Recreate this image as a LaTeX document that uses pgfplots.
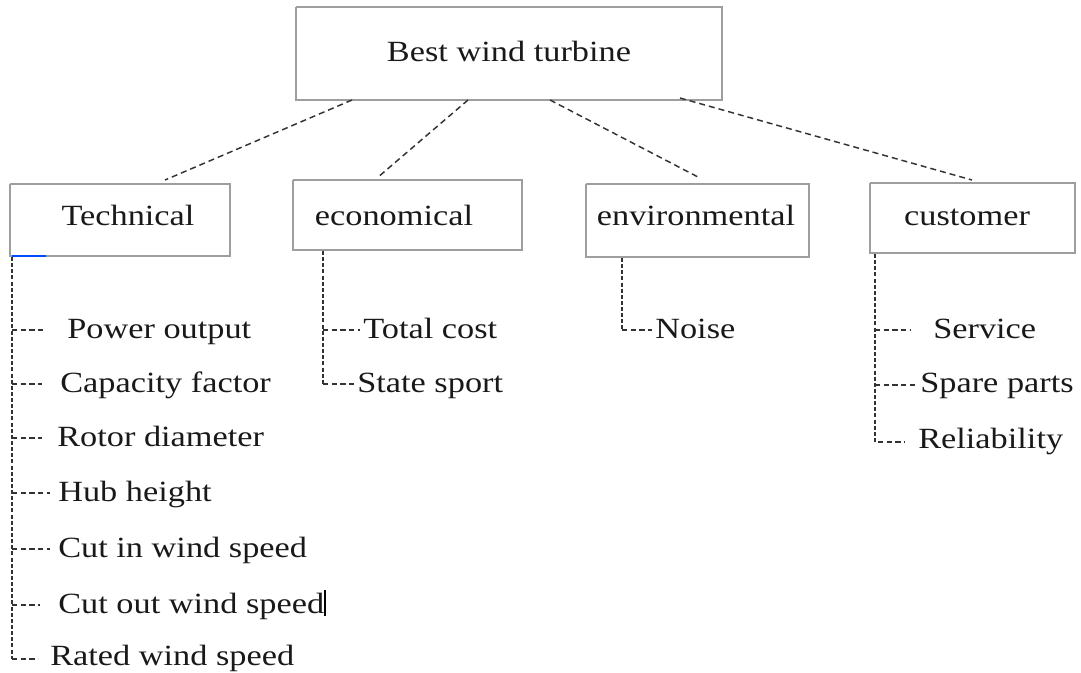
\documentclass[border=0pt]{standalone}
\usepackage{fontspec}
\setmainfont{Liberation Serif}[FakeStretch=1.17]
\usepackage{pgfplots}
\pgfplotsset{compat=1.18}
\tikzset{lbl/.style={font=\fontsize{22}{26}\selectfont, inner sep=0pt, text=black!90}}
\begin{document}
\begin{tikzpicture}
\begin{axis}[
  scale only axis, width=810.75pt, height=504pt,
  xmin=0, xmax=1081, ymin=0, ymax=672, y dir=reverse,
  hide axis, clip=false,
]
% frame for bounding box
\addplot[draw=none] coordinates {(0,0) (1081,672)};
% boxes
\pgfplotsset{boxst/.style={color=black!38, line width=1.1pt}}
\addplot[boxst] coordinates {(296,7) (722,7) (722,100) (296,100) (296,7)};
\addplot[boxst] coordinates {(10,184) (230,184) (230,256) (10,256) (10,184)};
\addplot[boxst] coordinates {(293,180) (522,180) (522,250) (293,250) (293,180)};
\addplot[boxst] coordinates {(586,184) (809,184) (809,257) (586,257) (586,184)};
\addplot[boxst] coordinates {(870,183) (1075,183) (1075,253) (870,253) (870,183)};
\addplot[color=blue!70!cyan, line width=1pt] coordinates {(12,256) (46,256)};
% top connectors
\pgfplotsset{dsh/.style={color=black!80, line width=1.1pt, dash pattern=on 4.5pt off 3pt}}
\addplot[dsh] coordinates {(352,100) (165,180)};
\addplot[dsh] coordinates {(468,100) (377,178)};
\addplot[dsh] coordinates {(550,100) (698,177)};
\addplot[dsh] coordinates {(680,98) (972,180)};
% branch styles
\pgfplotsset{
  vdsh/.style={color=black!80, line width=1.1pt, dash pattern=on 3pt off 1.6pt},
  sdsh/.style={color=black!80, line width=1pt, dash pattern=on 4pt off 2.5pt}}
% Technical branch
\addplot[vdsh] coordinates {(12,257) (12,659)};
\addplot[sdsh] coordinates {(12,330) (45,330)};
\addplot[sdsh] coordinates {(12,384) (42,384)};
\addplot[sdsh] coordinates {(12,438) (42,438)};
\addplot[sdsh] coordinates {(12,493) (50,493)};
\addplot[sdsh] coordinates {(12,549) (50,549)};
\addplot[sdsh] coordinates {(12,605) (40,605)};
\addplot[sdsh] coordinates {(12,659) (38,659)};
% economical branch
\addplot[vdsh] coordinates {(323,251) (323,384)};
\addplot[sdsh] coordinates {(323,330) (360,330)};
\addplot[sdsh] coordinates {(323,384) (355,384)};
% environmental branch
\addplot[vdsh] coordinates {(622,258) (622,330)};
\addplot[sdsh] coordinates {(622,330) (652,330)};
% customer branch
\addplot[vdsh] coordinates {(875,254) (875,442)};
\addplot[sdsh] coordinates {(875,330) (910,330)};
\addplot[sdsh] coordinates {(875,385) (917,385)};
\addplot[sdsh] coordinates {(878,442) (905,442)};
% cursor
\addplot[black, line width=1pt] coordinates {(325,590) (325,616)};
% labels
\node[lbl, anchor=base] at (axis cs:509,61) {Best wind turbine};
\node[lbl, anchor=base] at (axis cs:128,225) {Technical};
\node[lbl, anchor=base] at (axis cs:394,225) {economical};
\node[lbl, anchor=base] at (axis cs:696,225) {environmental};
\node[lbl, anchor=base] at (axis cs:967,225) {customer};
\node[lbl, anchor=base west] at (axis cs:67,338) {Power output};
\node[lbl, anchor=base west] at (axis cs:60,392) {Capacity factor};
\node[lbl, anchor=base west] at (axis cs:57,446) {Rotor diameter};
\node[lbl, anchor=base west] at (axis cs:58,501) {Hub height};
\node[lbl, anchor=base west] at (axis cs:58,557) {Cut in wind speed};
\node[lbl, anchor=base west] at (axis cs:58,613) {Cut out wind speed};
\node[lbl, anchor=base west] at (axis cs:50,665) {Rated wind speed};
\node[lbl, anchor=base west] at (axis cs:363,338) {Total cost};
\node[lbl, anchor=base west] at (axis cs:357,392) {State sport};
\node[lbl, anchor=base west] at (axis cs:655,338) {Noise};
\node[lbl, anchor=base west] at (axis cs:933,338) {Service};
\node[lbl, anchor=base west] at (axis cs:920,392) {Spare parts};
\node[lbl, anchor=base west] at (axis cs:918,448) {Reliability};
\end{axis}
\end{tikzpicture}
\end{document}
